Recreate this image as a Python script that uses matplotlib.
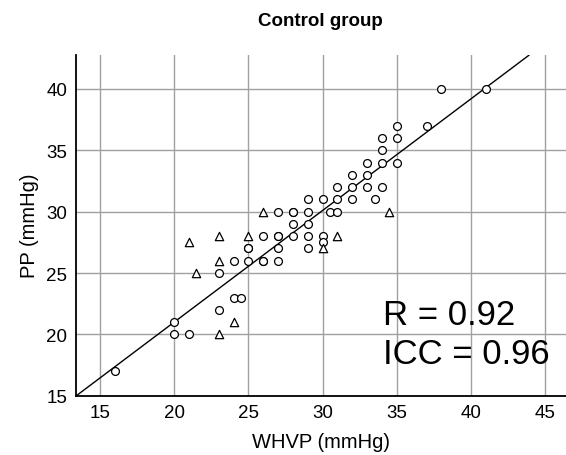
import matplotlib
matplotlib.use("Agg")
import matplotlib.pyplot as plt
import numpy as np

plt.rcParams['font.family'] = ['Liberation Sans', 'DejaVu Sans']

# circles: WHVP vs PP
circ_x = [16, 20, 20, 21, 23, 24, 24.5, 23,
          24, 25, 26, 26, 27, 25, 25, 27, 29,
          26, 27, 27, 28, 29, 30, 30, 28, 29,
          27, 28, 28, 29, 30.5, 31,
          29, 30, 31, 32, 33.5,
          31, 32, 33, 34, 32, 33,
          33, 34, 35, 34, 34, 35, 35, 37, 38, 41]
circ_y = [17, 21, 20, 20, 22, 23, 23, 25,
          26, 26, 26, 26, 26, 27, 27, 27, 27,
          28, 28, 28, 28, 28, 28, 27.5, 29, 29,
          30, 30, 30, 30, 30, 30,
          31, 31, 31, 31, 31,
          32, 32, 32, 32, 33, 33,
          34, 34, 34, 35, 36, 36, 37, 37, 40, 40]

# triangles
tri_x = [21, 21.5, 23, 23, 23, 24, 25, 26, 30, 31, 34.5]
tri_y = [27.5, 25, 28, 26, 20, 21, 28, 30, 27, 28, 30]

# fitted line
slope = 0.91
intercept = 2.8

fig = plt.figure(figsize=(5.66, 4.56), dpi=100)
ax = fig.add_axes([0.1337, 0.130, 0.8663, 0.748])

xmin, xmax = 13.36, 46.4
ymin, ymax = 15, 42.8
ax.set_xlim(xmin, xmax)
ax.set_ylim(ymin, ymax)

ax.set_xticks([15, 20, 25, 30, 35, 40, 45])
ax.set_yticks([15, 20, 25, 30, 35, 40])
ax.grid(True, color='#a0a0a0', linewidth=1.0)
ax.set_axisbelow(True)

lx = np.array([xmin, 43.9])
ax.plot(lx, slope * lx + intercept, color='black', linewidth=1.0, zorder=2)

ax.scatter(circ_x, circ_y, s=32, marker='o', facecolors='white',
           edgecolors='black', linewidths=0.9, zorder=3)
ax.scatter(tri_x, tri_y, s=36, marker='^', facecolors='white',
           edgecolors='black', linewidths=0.9, zorder=3)

for side in ['top', 'right']:
    ax.spines[side].set_visible(False)
for side in ['left', 'bottom']:
    ax.spines[side].set_linewidth(1.3)

ax.tick_params(axis='both', length=0, labelsize=13.5, pad=6)
ax.set_xlabel('WHVP (mmHg)', fontsize=14.5, labelpad=8)
ax.set_ylabel('PP (mmHg)', fontsize=14.5, labelpad=5)
ax.set_title('Control group', fontsize=13.5, fontweight='bold', pad=21)

ax.text(34.1, 20.84, 'R = 0.92', fontsize=25, ha='left', va='baseline')
ax.text(34.1, 17.67, 'ICC = 0.96', fontsize=25, ha='left', va='baseline')

fig.savefig('out.png', dpi=100)
